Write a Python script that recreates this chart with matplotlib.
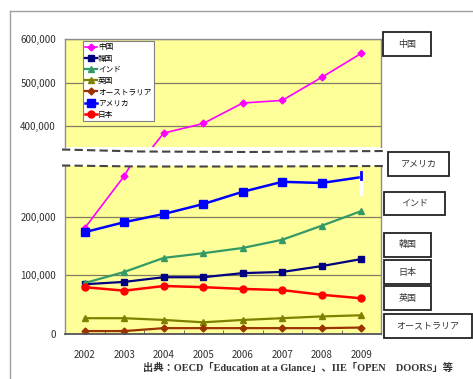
import numpy as np
import matplotlib
matplotlib.use('Agg')
import matplotlib.pyplot as plt
import matplotlib.lines as mlines
import matplotlib.patches as mpatches
from matplotlib.ticker import FuncFormatter

plt.rcParams['font.family'] = ['Liberation Sans Narrow', 'Noto Sans CJK JP', 'DejaVu Sans']

# data
years = ['2002', '2003', '2004', '2005', '2006', '2007', '2008', '2009']
china = [181000, 270000, 384000, 406000, 453000, 459000, 512000, 567000]
korea = [85000, 89000, 97000, 97000, 104000, 106000, 116000, 128000]
india = [87000, 106000, 130000, 138000, 147000, 161000, 185000, 210000]
uk = [27000, 27000, 24000, 20000, 24000, 27000, 30000, 32000]
australia = [5000, 5000, 10000, 10000, 10000, 10000, 10000, 11000]
usa = [174000, 191000, 205000, 222000, 243000, 260000, 258000, 268000]
japan = [80000, 74000, 82000, 80000, 77000, 75000, 67000, 61000]

names = ['中国', '韓国', 'インド', '英国', 'オーストラリア', 'アメリカ', '日本']
values = [china, korea, india, uk, australia, usa, japan]
colors = ['#FF00FF', '#000080', '#339966', '#808000', '#993300', '#0000FF', '#FF0000']
markers = ['D', 's', '^', '^', 'D', 's', 'o']
msizes = [3.5, 5, 5, 5, 3.5, 5.5, 5]
lwidths = [1.2, 1.6, 1.6, 1.6, 1.6, 1.8, 1.8]

box_labels = ['中国', 'アメリカ', 'インド', '韓国', '日本', '英国', 'オーストラリア']
source = '出典：OECD「Education at a Glance」、IIE「OPEN　DOORS」等'

W, H = 473, 379
fig = plt.figure(figsize=(W / 100, H / 100), dpi=100)


def rect(x0, y0, x1, y1):
    return [x0 / W, 1 - y1 / H, (x1 - x0) / W, (y1 - y0) / H]


yellow = '#FFFF99'
grid_c = '#7f7f60'
spine_c = '#8c8c8c'

ax_top = fig.add_axes(rect(65, 39, 381, 147))
ax_bot = fig.add_axes(rect(65, 166, 381, 334))
x = np.arange(len(years))

for ax in (ax_top, ax_bot):
    ax.set_facecolor(yellow)
    for n, v, c, m, ms, lw in zip(names, values, colors, markers, msizes, lwidths):
        # the US marker at 2009 is hidden under a stray stroke in the original
        every = list(range(len(years) - 1)) if n == 'アメリカ' and ax is ax_bot else None
        ax.plot(x, v, color=c, marker=m, markersize=ms, lw=lw, label=n,
                markeredgecolor=c, markevery=every)
    ax.set_xlim(-0.5, len(years) - 0.5)
    ax.yaxis.grid(True, color=grid_c, lw=0.9)
    ax.set_axisbelow(True)
    ax.yaxis.set_major_formatter(FuncFormatter(lambda v, p: '{:,}'.format(int(v))))
    ax.tick_params(axis='y', length=0, pad=6.5, labelsize=7, colors='#303030')
    for s in ax.spines.values():
        s.set_color(spine_c)
        s.set_linewidth(1.0)

ax_top.set_ylim(352000, 600000)
ax_top.set_yticks([400000, 500000, 600000])
ax_top.spines['bottom'].set_visible(False)
ax_top.set_xticks([])

ax_bot.set_ylim(0, 287000)
ax_bot.set_yticks([0, 100000, 200000])
ax_bot.spines['top'].set_visible(False)
ax_bot.spines['bottom'].set_color('#555555')
ax_bot.spines['bottom'].set_linewidth(1.3)
ax_bot.set_xticks(x)
ax_bot.set_xticklabels(years)
ax_bot.set_xticks(x[:-1] + 0.5, minor=True)
ax_bot.tick_params(axis='x', which='major', length=0, pad=11.5, labelsize=7, colors='#303030')
ax_bot.tick_params(axis='x', which='minor', direction='in', length=3, color='#555555')

# odd white/blue stroke at the 2009 end of the US line
ax_bot.plot([x[-1], x[-1]], [usa[-1] - 29000, usa[-1] + 6000], color='white', lw=2.5, zorder=5)
ax_bot.plot([x[-1], x[-1]], [usa[-1] - 3000, usa[-1] + 9000], color='#0000FF', lw=2.0, zorder=6)

leg = ax_top.legend(loc='upper left', bbox_to_anchor=(83 / W, 1 - 41 / H),
                    bbox_transform=fig.transFigure, fontsize=5.5, handlelength=1.5,
                    handletextpad=0.15, labelspacing=0.42, borderpad=0.3,
                    borderaxespad=0, fancybox=False, framealpha=1)
leg.get_frame().set_edgecolor('#808080')
leg.get_frame().set_linewidth(0.8)
leg.set_zorder(10)


def fx(p):
    return p / W


def fy(p):
    return 1 - p / H


# broken-axis dashed lines
for xs, ys in [([62, 140, 250, 385], [149.5, 151.5, 152, 151]),
               ([62, 140, 250, 385], [165.5, 166.5, 166.5, 166])]:
    fig.add_artist(mlines.Line2D([fx(v) for v in xs], [fy(v) for v in ys],
                                 color='#444444', lw=1.5, ls=(0, (4, 2)),
                                 transform=fig.transFigure))

# outer chart frame (runs off the image to the right and bottom)
fig.add_artist(mlines.Line2D([fx(10), fx(473)], [fy(11), fy(11)], color='#a0a0a0', lw=1.0))
fig.add_artist(mlines.Line2D([fx(10), fx(10)], [fy(11), fy(379)], color='#a0a0a0', lw=1.0))

# label boxes on the right
box_pos = [(383, 32, 431, 56), (388, 152, 449, 176), (384, 192, 445, 215),
           (384, 233, 431, 257), (384, 260, 431, 284), (384, 286, 431, 310),
           (384, 314, 472, 338)]
for lab, (x0, y0, x1, y1) in zip(box_labels, box_pos):
    fig.add_artist(mpatches.Rectangle((fx(x0), fy(y1)), (x1 - x0) / W, (y1 - y0) / H,
                                      transform=fig.transFigure, facecolor='white',
                                      edgecolor='#222222', lw=1.3))
    fig.text(fx((x0 + x1) / 2), fy((y0 + y1) / 2), lab, ha='center', va='center',
             fontsize=6.5, color='#333333', family=['Noto Sans CJK JP', 'DejaVu Sans'])

fig.text(fx(143), fy(368), source, ha='left', va='center', fontsize=7.4,
         color='#333333', family=['Liberation Serif', 'Noto Sans CJK JP'], weight='bold')

fig.savefig('out.png', dpi=100)
